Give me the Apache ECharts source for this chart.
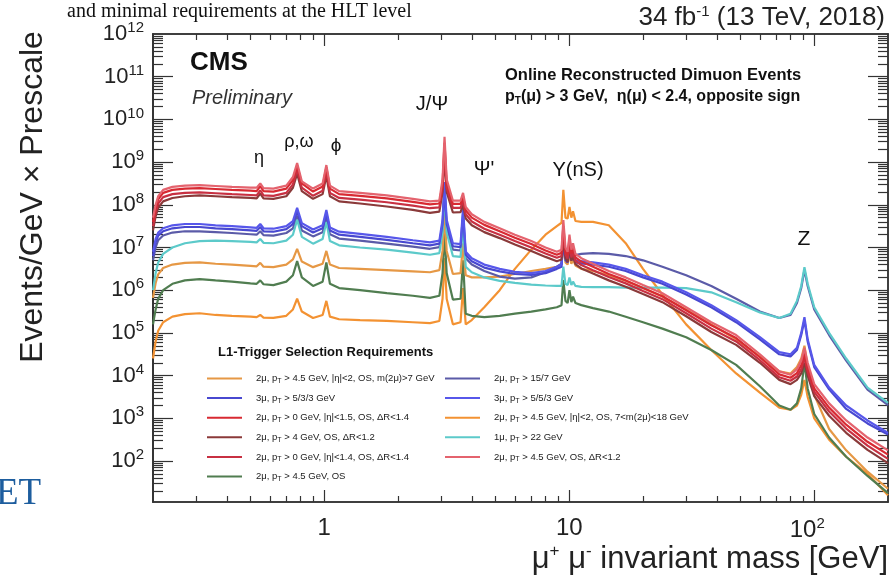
<!DOCTYPE html>
<html><head><meta charset="utf-8">
<script src="https://cdn.jsdelivr.net/npm/echarts@6/dist/echarts.min.js"></script>
<style>html,body{margin:0;padding:0;background:#fff}#c{width:893px;height:575px}</style>
</head><body><div id="c"></div>
<script>
// ---- data (values are log10(Events/GeV x Prescale)) ----
const masses = [0.2,0.205,0.21,0.22,0.24,0.27,0.31,0.36,0.42,0.5,0.53,0.548,0.565,0.62,0.7,0.745,0.775,0.81,0.9,0.985,1.02,1.055,1.15,1.4,1.8,2.3,2.7,2.95,3.04,3.097,3.16,3.35,3.6,3.686,3.78,4.0,4.5,5.2,6.0,7.0,8.0,8.9,9.3,9.46,9.65,9.85,10.02,10.2,10.36,10.6,11.2,12.5,14.5,17,20,24,30,38,48,60,72,80,85,88.5,91.2,94,100,115,135,165,200];

const nameL1 = "2μ, pT > 4.5 GeV, |η|<2, OS, m(2μ)>7 GeV";
const nameL2 = "3μ, pT > 5/3/3 GeV";
const nameL3 = "2μ, pT > 0 GeV, |η|<1.5, OS, ΔR<1.4";
const nameL4 = "2μ, pT > 4 GeV, OS, ΔR<1.2";
const nameL5 = "2μ, pT > 0 GeV, |η|<1.4, OS, ΔR<1.4";
const nameL6 = "2μ, pT > 4.5 GeV, OS";
const nameR1 = "2μ, pT > 15/7 GeV";
const nameR2 = "3μ, pT > 5/5/3 GeV";
const nameR3 = "2μ, pT > 4.5 GeV, |η|<2, OS, 7<m(2μ)<18 GeV";
const nameR4 = "1μ, pT > 22 GeV";
const nameR5 = "2μ, pT > 4.5 GeV, OS, ΔR<1.2";

const logL1 = [5.82,6.17,6.37,6.52,6.6,6.64,6.65,6.62,6.6,6.57,6.56,6.64,6.55,6.54,6.6,6.72,6.97,6.67,6.54,6.62,6.92,6.6,6.52,6.5,6.47,6.44,6.42,6.47,6.92,7.8,6.92,6.38,6.4,7.1,6.35,6.3,6.3,6.32,6.38,6.45,6.5,6.55,6.6,7.1,6.65,6.6,6.85,6.62,6.72,6.58,6.5,6.45,6.35,6.22,6.05,5.85,5.55,5.2,4.85,4.45,4.1,4.05,4.2,4.4,4.7,4.2,3.55,2.75,2.25,1.75,1.35];
const logL2 = [6.8,7.12,7.28,7.38,7.45,7.48,7.48,7.45,7.43,7.4,7.39,7.48,7.38,7.37,7.43,7.55,7.85,7.5,7.35,7.45,7.8,7.4,7.3,7.25,7.18,7.1,7.05,7.09,7.55,8.4,7.55,7.03,7.01,7.8,6.83,6.68,6.53,6.44,6.38,6.36,6.4,6.5,6.55,7.2,6.7,6.65,6.93,6.7,6.78,6.65,6.63,6.6,6.55,6.45,6.3,6.15,5.9,5.6,5.25,4.85,4.5,4.45,4.6,4.95,5.3,4.8,4.2,3.68,3.22,2.88,2.62];
const logL3 = [7.6,7.93,8.13,8.28,8.35,8.38,8.39,8.37,8.35,8.33,8.32,8.44,8.32,8.31,8.38,8.58,8.92,8.5,8.31,8.43,8.88,8.38,8.25,8.21,8.15,8.07,8.01,8.03,8.5,9.45,8.5,8.02,8.02,8.2,7.87,7.7,7.53,7.38,7.23,7.08,6.93,6.83,6.88,7.5,6.92,6.82,7.2,6.86,7.0,6.77,6.67,6.55,6.38,6.23,6.05,5.86,5.53,5.18,4.88,4.43,4.03,3.95,4.06,4.25,4.52,4.2,3.7,3.25,2.85,2.45,2.15];
const logL4 = [7.4,7.73,7.93,8.08,8.16,8.2,8.22,8.2,8.18,8.16,8.15,8.26,8.15,8.14,8.2,8.4,8.73,8.32,8.14,8.25,8.68,8.2,8.08,8.03,7.96,7.88,7.81,7.84,8.3,9.15,8.3,7.82,7.83,8.0,7.68,7.52,7.36,7.22,7.07,6.92,6.78,6.68,6.72,7.22,6.75,6.66,7.0,6.69,6.8,6.61,6.51,6.39,6.23,6.08,5.91,5.72,5.39,5.02,4.72,4.3,3.9,3.8,3.9,4.05,4.3,4.0,3.52,3.06,2.66,2.26,1.95];
const logL5 = [7.5,7.83,8.03,8.18,8.25,8.28,8.29,8.27,8.25,8.23,8.22,8.34,8.22,8.21,8.28,8.48,8.83,8.4,8.21,8.33,8.78,8.28,8.16,8.12,8.06,7.98,7.92,7.94,8.4,9.3,8.4,7.93,7.93,8.1,7.78,7.61,7.44,7.3,7.15,7.0,6.86,6.76,6.8,7.38,6.84,6.74,7.1,6.77,6.9,6.69,6.59,6.47,6.31,6.16,5.98,5.79,5.46,5.1,4.8,4.36,3.96,3.88,3.98,4.15,4.42,4.1,3.62,3.16,2.76,2.36,2.05];
const logL6 = [5.2,5.55,5.8,6.0,6.15,6.23,6.26,6.23,6.2,6.16,6.15,6.23,6.14,6.12,6.2,6.35,6.68,6.3,6.1,6.2,6.65,6.15,6.05,6.0,5.93,5.87,5.82,5.87,6.4,7.35,6.4,5.78,5.8,6.7,5.45,5.4,5.37,5.4,5.45,5.5,5.55,5.6,5.65,6.24,5.75,5.7,6.0,5.72,5.85,5.7,5.65,5.58,5.5,5.38,5.25,5.1,4.9,4.6,4.25,3.75,3.3,3.2,3.35,3.7,4.3,3.7,3.1,2.55,2.1,1.65,1.25];
const logR1 = [6.7,7.0,7.17,7.28,7.35,7.38,7.38,7.36,7.34,7.31,7.3,7.38,7.29,7.28,7.34,7.45,7.75,7.4,7.26,7.36,7.7,7.31,7.21,7.16,7.09,7.02,6.97,7.01,7.45,8.3,7.45,6.95,6.93,7.65,6.75,6.6,6.45,6.32,6.27,6.3,6.42,6.55,6.62,7.15,6.75,6.75,7.0,6.8,6.88,6.82,6.85,6.87,6.85,6.8,6.7,6.55,6.35,6.1,5.8,5.5,5.35,5.42,5.7,6.05,6.48,6.1,5.55,4.95,4.35,3.67,3.31];
const logR2 = [6.9,7.2,7.35,7.45,7.52,7.55,7.55,7.52,7.5,7.47,7.46,7.55,7.45,7.44,7.5,7.62,7.93,7.57,7.42,7.52,7.88,7.47,7.37,7.32,7.25,7.17,7.12,7.16,7.65,8.53,7.65,7.1,7.08,7.92,6.9,6.75,6.6,6.5,6.43,6.4,6.45,6.55,6.6,7.3,6.75,6.7,7.0,6.75,6.85,6.7,6.68,6.65,6.6,6.5,6.35,6.2,5.95,5.65,5.3,4.9,4.55,4.5,4.65,5.0,5.37,4.85,4.25,3.72,3.3,2.95,2.66];
const logR3 = [4.4,4.8,5.05,5.25,5.38,5.44,5.46,5.42,5.4,5.38,5.37,5.42,5.36,5.35,5.4,5.55,5.8,5.5,5.35,5.42,5.75,5.38,5.32,5.3,5.28,5.25,5.23,5.28,5.8,6.75,5.8,5.2,5.25,6.05,5.2,5.3,5.6,6.0,6.5,6.95,7.3,7.5,7.58,8.35,7.7,7.68,7.95,7.7,7.85,7.62,7.6,7.6,7.52,7.1,6.5,5.9,5.2,4.6,4.05,3.6,3.25,3.2,3.3,3.55,3.9,3.5,3.0,2.5,2.1,1.7,1.2];
const logR4 = [6.0,6.4,6.65,6.85,7.0,7.1,7.15,7.16,7.15,7.13,7.12,7.2,7.11,7.1,7.16,7.3,7.65,7.25,7.09,7.2,7.6,7.15,7.05,7.0,6.95,6.88,6.83,6.87,7.35,8.35,7.35,6.8,6.78,7.5,6.55,6.42,6.3,6.22,6.17,6.13,6.11,6.1,6.1,6.55,6.15,6.12,6.3,6.12,6.2,6.1,6.08,6.07,6.07,6.06,6.06,6.06,6.05,5.95,5.72,5.48,5.35,5.45,5.75,6.1,6.54,6.15,5.6,5.0,4.4,3.72,3.36];
const logR5 = [7.7,8.0,8.2,8.35,8.42,8.45,8.46,8.44,8.42,8.4,8.4,8.5,8.39,8.38,8.45,8.65,8.98,8.55,8.38,8.5,8.93,8.45,8.32,8.28,8.22,8.14,8.08,8.1,8.6,9.59,8.6,8.1,8.1,8.28,7.95,7.78,7.6,7.45,7.3,7.15,7.0,6.9,6.95,7.64,7.0,6.9,7.3,6.95,7.1,6.85,6.75,6.62,6.45,6.3,6.12,5.93,5.6,5.25,4.95,4.5,4.1,4.02,4.15,4.35,4.65,4.3,3.8,3.35,2.95,2.55,2.25];

const xTickMasses = [1, 10, 100];
const xTickLabels = ['1', '10', '10^2'];
const yTickExponents = [2,3,4,5,6,7,8,9,10,11,12];

// ---- styling ----
const SANS = '"Liberation Sans", Arial, sans-serif';
const SERIF = '"Liberation Serif", "DejaVu Serif", serif';
const AX = '#333';
const X_MIN = Math.log10(0.2), X_MAX = Math.log10(200);
const Y_MIN = 1.04, Y_MAX = 12;

const xMajor = xTickMasses.map(m => Math.log10(m));
const xMinor = [];
for (let e = -1; e <= 2; e++) for (let k = 2; k <= 9; k++) {
  const v = e + Math.log10(k);
  if (v > X_MIN + 1e-6 && v < X_MAX - 1e-6) xMinor.push(v);
}
const yMinor = [];
for (let e = 1; e <= 11; e++) for (let k = 2; k <= 9; k++) {
  const v = e + Math.log10(k);
  if (v > Y_MIN + 1e-6 && v < Y_MAX - 1e-6) yMinor.push(v);
}

const xRich = {
  b: {fontSize: 24, fontFamily: SANS, color: '#222'},
  s: {fontSize: 15, fontFamily: SANS, color: '#222', padding: [0, 0, 13, 0]},
  s2: {fontSize: 15, fontFamily: SANS, color: '#222', padding: [0, 14, 13, 0]}
};
function xAx(pos, vals, len, showLabel) {
  return {
    type: 'value', min: X_MIN, max: X_MAX, position: pos,
    axisLine: {show: true, onZero: false, lineStyle: {color: AX, width: 1.5}},
    splitLine: {show: false},
    axisTick: {show: true, inside: true, length: len, customValues: vals, lineStyle: {color: AX, width: 1.2}},
    axisLabel: {show: showLabel, customValues: vals, margin: 14, showMinLabel: true, showMaxLabel: true,
      formatter: v => {
        const i = xMajor.findIndex(t => Math.abs(t - v) < 1e-6);
        const lab = i >= 0 ? xTickLabels[i] : '';
        if (lab.indexOf('^') > 0) { const p = lab.split('^'); return '{b|' + p[0] + '}{s2|' + p[1] + '}'; }
        return '{b|' + lab + '}';
      }, rich: xRich}
  };
}
const yRich = {
  b: {fontSize: 22, fontFamily: SANS, color: '#222'},
  s: {fontSize: 15, fontFamily: SANS, color: '#222', padding: [0, 0, 12, 0]}
};
function yAx(pos, vals, len, showLabel) {
  return {
    type: 'value', min: Y_MIN, max: Y_MAX, position: pos,
    axisLine: {show: true, onZero: false, lineStyle: {color: AX, width: 1.5}},
    splitLine: {show: false},
    axisTick: {show: true, inside: true, length: len, customValues: vals, lineStyle: {color: AX, width: 1.2}},
    axisLabel: {show: showLabel, customValues: vals, margin: 9, showMinLabel: true, showMaxLabel: true,
      formatter: v => '{b|10}{s|' + Math.round(v) + '}', rich: yRich}
  };
}

const seriesDefs = [
  [nameR3, logR3, '#f39232'],
  [nameL6, logL6, '#507d50'],
  [nameL1, logL1, '#e69845'],
  [nameR1, logR1, '#5b5ba8'],
  [nameR4, logR4, '#5ccaca'],
  [nameL2, logL2, '#4848d0'],
  [nameR2, logR2, '#5757ea'],
  [nameL4, logL4, '#8b3a3a'],
  [nameL5, logL5, '#c83042'],
  [nameL3, logL3, '#d82a32'],
  [nameR5, logR5, '#e4636e']
];
const series = seriesDefs.map(([n, vals, c]) => ({
  name: n, type: 'line', xAxisIndex: 0, yAxisIndex: 0,
  data: masses.map((m, i) => [Math.log10(m), vals[i]]),
  showSymbol: false, symbol: 'none', color: c,
  lineStyle: {width: 2.2, color: c}, clip: true
}));

const legendFmt = name => name.replace('pT', 'p{t|T}');
const legendText = {
  fontSize: 9.5, fontFamily: SANS, color: '#1a1a1a', lineHeight: 13, padding: [0, 0, 0, 9],
  rich: {t: {fontSize: 7, fontFamily: SANS, color: '#1a1a1a', lineHeight: 13, padding: [5, 0, 0, 0]}}
};
function leg(names, left) {
  return {data: names, orient: 'vertical', left: left, top: 372, itemWidth: 35, itemHeight: 2,
    itemGap: 6.6, icon: 'rect', selectedMode: false, formatter: legendFmt, textStyle: legendText, padding: 0};
}

const txt = (x, y, text, font, extra) => ({type: 'text', x: x, y: y, z: 50,
  style: Object.assign({text: text, font: font, fill: '#111', align: 'center', verticalAlign: 'middle'}, extra || {})});

const option = {
  animation: false,
  backgroundColor: '#fff',
  grid: {left: 153, right: 5, top: 34, bottom: 73},
  xAxis: [xAx('bottom', xMajor, 12, true), xAx('bottom', xMinor, 6, false),
          xAx('top', xMajor, 12, false), xAx('top', xMinor, 6, false)],
  yAxis: [yAx('left', yTickExponents.slice(0, -1), 20, false), yAx('left', yMinor, 10, false),
          yAx('right', yTickExponents.slice(0, -1), 20, false), yAx('right', yMinor, 10, false),
          yAx('left', yTickExponents, 0, true)],
  legend: [leg([nameL1, nameL2, nameL3, nameL4, nameL5, nameL6], 207),
           leg([nameR1, nameR2, nameR3, nameR4, nameR5], 445)],
  series: series,
  graphic: [
    txt(67, 12, 'and minimal requirements at the HLT level', '20px ' + SERIF, {align: 'left'}),
    {type: 'text', x: 885, y: 18, z: 50, style: {text: '34 fb{s|-1} (13 TeV, 2018)', font: '26px ' + SANS, fill: '#222', align: 'right', verticalAlign: 'middle',
      rich: {s: {fontSize: 15, fontFamily: SANS, fill: '#222', padding: [0, 0, 12, 0]}}}},
    txt(-4, 494, 'ET', '37px ' + SERIF, {align: 'left', fill: '#1d5d9e'}),
    {type: 'text', x: 33, y: 197, rotation: Math.PI / 2, z: 50, style: {text: 'Events/GeV × Prescale', font: '32px ' + SANS, fill: '#222', align: 'center', verticalAlign: 'middle'}},
    {type: 'text', x: 888, y: 559, z: 50, style: {text: 'μ{s|+} μ{s|-} invariant mass [GeV]', font: '31px ' + SANS, fill: '#222', align: 'right', verticalAlign: 'middle',
      rich: {s: {fontSize: 17, fontFamily: SANS, fill: '#222', padding: [0, 0, 16, 0]}}}},
    txt(190, 63, 'CMS', 'bold 26px ' + SANS, {align: 'left'}),
    txt(192, 98, 'Preliminary', 'italic 20px ' + SANS, {align: 'left', fill: '#333'}),
    txt(505, 75, 'Online Reconstructed Dimuon Events', 'bold 16.5px ' + SANS, {align: 'left'}),
    {type: 'text', x: 505, y: 97, z: 50, style: {text: 'p{t|T}(μ) > 3 GeV,  η(μ) < 2.4, opposite sign', font: 'bold 16px ' + SANS, fill: '#111', align: 'left', verticalAlign: 'middle',
      rich: {t: {fontSize: 10, fontWeight: 'bold', fontFamily: SANS, fill: '#111', padding: [9, 0, 0, 0]}}}},
    txt(259, 158, 'η', '18px ' + SANS),
    txt(299, 142, 'ρ,ω', '18px ' + SANS),
    txt(336, 146, 'ϕ', '19px ' + SANS),
    txt(432, 104, 'J/Ψ', '20px ' + SANS),
    txt(484, 169, 'Ψ\'', '20px ' + SANS),
    txt(578, 170, 'Υ(nS)', '20px ' + SANS),
    txt(804, 239, 'Z', '21px ' + SANS),
    txt(218, 352, 'L1-Trigger Selection Requirements', 'bold 13px ' + SANS, {align: 'left'})
  ]
};
const chart = echarts.init(document.getElementById('c'), null, {renderer: 'canvas'});
chart.setOption(option);
</script>
</body></html>
